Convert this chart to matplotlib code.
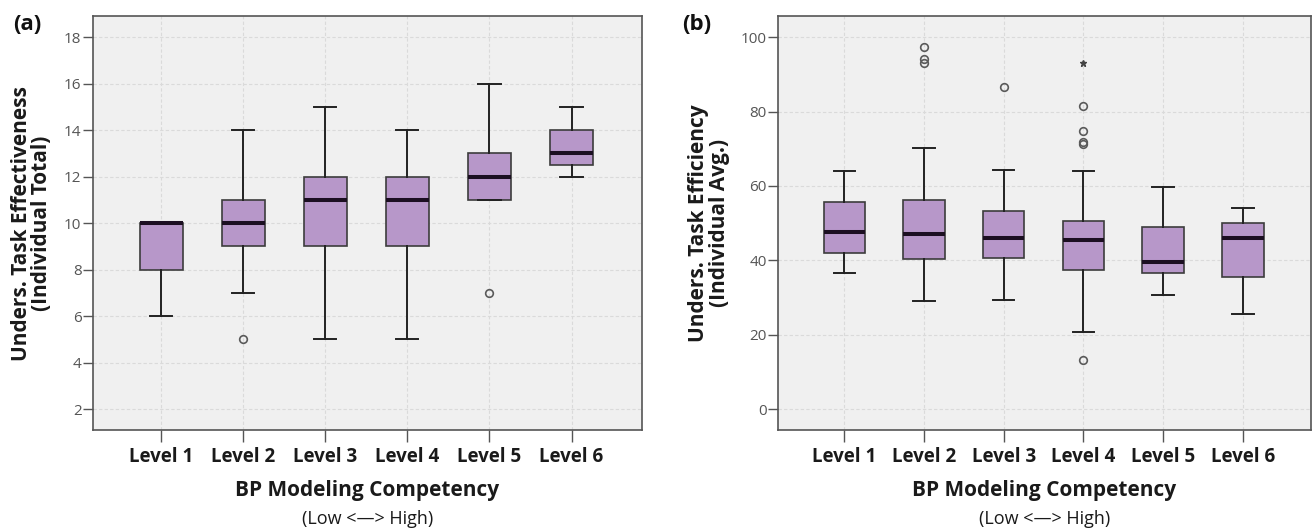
import matplotlib
matplotlib.use("Agg")
import matplotlib.pyplot as plt

plt.rcParams['font.family'] = ['Open Sans', 'DejaVu Sans']

levels = ['Level 1', 'Level 2', 'Level 3', 'Level 4', 'Level 5', 'Level 6']

# (a) Unders. Task Effectiveness (Individual Total)
a_whislo = [6, 7, 5, 5, 11, 12]
a_q1 = [8, 9, 9, 9, 11, 12.5]
a_med = [10, 10, 11, 11, 12, 13]
a_q3 = [10, 11, 12, 12, 13, 14]
a_whishi = [10, 14, 15, 14, 16, 15]
a_fliers = [[], [5], [], [], [7], []]
a_yticks = [2, 4, 6, 8, 10, 12, 14, 16, 18]

# (b) Unders. Task Efficiency (Individual Avg.)
b_whislo = [36.5, 29.1, 29.4, 20.7, 30.6, 25.5]
b_q1 = [42.0, 40.3, 40.7, 37.3, 36.5, 35.6]
b_med = [47.5, 47.0, 46.0, 45.5, 39.5, 46.0]
b_q3 = [55.8, 56.2, 53.3, 50.6, 49.0, 50.0]
b_whishi = [63.9, 70.3, 64.2, 63.9, 59.6, 54.0]
b_fliers = [[], [97.5, 94.2, 93.2], [86.6], [81.6, 74.9, 71.7, 71.4, 13.2], [], []]
b_extremes = [[], [], [], [93.0], [], []]
b_yticks = [0, 20, 40, 60, 80, 100]

BOX = '#b797c9'
BG = '#f0f0f0'
GRID = '#dadada'
DARK = '#3c3c3c'


def make_stats(lo, q1, med, q3, hi, fl):
    return [dict(whislo=lo[i], q1=q1[i], med=med[i], q3=q3[i], whishi=hi[i], fliers=fl[i])
            for i in range(len(med))]


def draw(ax, stats, ylim, yticks, extremes=None):
    pos = list(range(1, len(levels) + 1))
    ax.set_facecolor(BG)
    ax.set_axisbelow(True)
    ax.grid(True, color=GRID, linestyle=(0, (3, 2)), linewidth=0.8)
    ax.bxp(stats, positions=pos, widths=0.52, capwidths=0.27, patch_artist=True,
           boxprops=dict(facecolor=BOX, edgecolor=DARK, linewidth=1.2),
           medianprops=dict(color='#1c0f22', linewidth=2.9, solid_capstyle='butt'),
           whiskerprops=dict(color='#222222', linewidth=1.4),
           capprops=dict(color='#222222', linewidth=1.4),
           flierprops=dict(marker='o', markerfacecolor='none', markeredgecolor='#5a5a5a',
                           markersize=5.5, markeredgewidth=1.2))
    if extremes:
        for p, vals in zip(pos, extremes):
            if vals:
                ax.plot([p] * len(vals), vals, linestyle='none', marker='*',
                        markersize=5, color='#444444')
    ax.set_xlim(0.164, 6.857)
    ax.set_ylim(*ylim)
    ax.set_xticks(pos)
    ax.set_xticklabels(levels, fontsize=13.5, fontweight='bold', color='#1a1a1a')
    ax.set_yticks(yticks)
    ax.tick_params(axis='y', length=7, width=1, color='#555555', pad=1,
                   labelsize=11, labelcolor='#555555')
    ax.tick_params(axis='x', length=8.4, width=1, color='#555555', pad=3.5)
    for s in ax.spines.values():
        s.set_color('#555555')
        s.set_linewidth(1.2)
    ax.text(0.5, -0.144, 'BP Modeling Competency', transform=ax.transAxes,
            ha='center', va='center', fontsize=15, fontweight='bold', color='#1a1a1a')
    ax.text(0.5, -0.214, '(Low <\u2014> High)', transform=ax.transAxes,
            ha='center', va='center', fontsize=13, color='#1a1a1a')
    return ax


fig = plt.figure(figsize=(13.12, 5.3), dpi=100)
ax1 = fig.add_axes([0.0706, 0.1879, 0.4186, 0.782])
ax2 = fig.add_axes([0.5928, 0.1879, 0.4065, 0.782])

draw(ax1, make_stats(a_whislo, a_q1, a_med, a_q3, a_whishi, a_fliers),
     (1.08, 18.92), a_yticks)
draw(ax2, make_stats(b_whislo, b_q1, b_med, b_q3, b_whishi, b_fliers),
     (-5.73, 105.73), b_yticks, extremes=b_extremes)

ax1.text(-0.111, 0.5, 'Unders. Task Effectiveness\n(Individual Total)', transform=ax1.transAxes,
         rotation=90, ha='center', va='center', fontsize=15, fontweight='bold',
         linespacing=0.95, color='#1a1a1a')
ax2.text(-0.129, 0.5, 'Unders. Task Efficiency\n(Individual Avg.)', transform=ax2.transAxes,
         rotation=90, ha='center', va='center', fontsize=15, fontweight='bold',
         linespacing=0.95, color='#1a1a1a')

fig.text(27 / 1312, 1 - 24 / 530, '(a)', ha='center', va='center', fontsize=16,
         fontweight='bold', color='#111111')
fig.text(697 / 1312, 1 - 25 / 530, '(b)', ha='center', va='center', fontsize=16,
         fontweight='bold', color='#111111')

fig.savefig('out.png', dpi=100, facecolor='white')
